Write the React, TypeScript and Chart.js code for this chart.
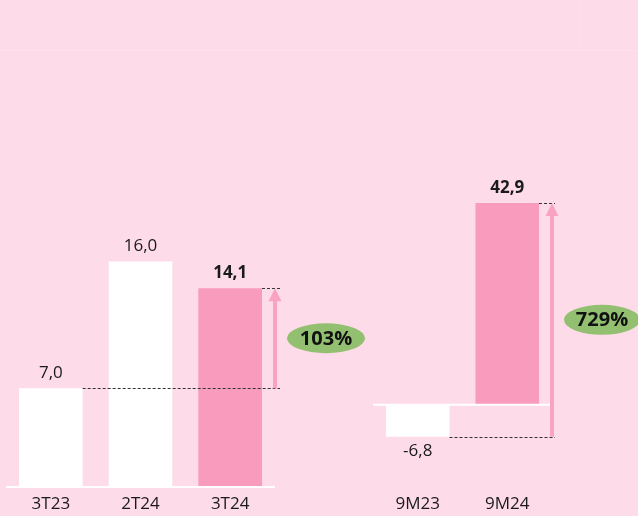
import React, { useEffect, useRef } from 'react';
import { Chart, registerables } from 'chart.js';

Chart.register(...registerables);

// ---- Data ----
const quarterLabels = ['3T23', '2T24', '3T24'];
const quarterValues = [7.0, 16.0, 14.1];
const quarterGrowth = '103%';

const ytdLabels = ['9M23', '9M24'];
const ytdValues = [-6.8, 42.9];
const ytdGrowth = '729%';

// ---- Styles ----
const BG = '#FDDBE8';
const PINK = '#F99BBD';
const WHITE = '#FFFFFF';
const ARROW = '#F9A2C1';
const GREEN = '#93BF70';
const TEXT = '#1a1a1a';
const FONT = '"Open Sans", "Noto Sans", sans-serif';

const fmt = (v: number) => v.toFixed(1).replace('.', ',');

const annotate = {
  id: 'annotate',
  afterDatasetsDraw(chart: any, _args: any, opts: any) {
    const { ctx, chartArea } = chart;
    const ys = chart.scales.y;
    const meta = chart.getDatasetMeta(0);
    const vals = chart.data.datasets[0].data as number[];
    const n = vals.length;
    ctx.save();

    // zero line
    const y0 = ys.getPixelForValue(0);
    ctx.strokeStyle = WHITE;
    ctx.lineWidth = 2;
    ctx.beginPath();
    ctx.moveTo(chartArea.left, y0);
    ctx.lineTo(chartArea.right, y0);
    ctx.stroke();

    // value labels
    ctx.textAlign = 'center';
    ctx.textBaseline = 'middle';
    ctx.fillStyle = TEXT;
    meta.data.forEach((bar: any, i: number) => {
      const v = vals[i];
      ctx.font = `${i === n - 1 ? 'bold ' : ''}17px ${FONT}`;
      const y = v >= 0 ? bar.y - 15 : bar.y + 14;
      ctx.fillText(fmt(v), bar.x, y);
    });

    // dashed reference lines
    const first = meta.data[0];
    const last = meta.data[n - 1];
    const yFrom = ys.getPixelForValue(vals[0]);
    const yTo = ys.getPixelForValue(vals[n - 1]);
    const ax = chartArea.right;
    const dashEnd = ax + opts.dashExtra;
    ctx.setLineDash([3, 2]);
    ctx.strokeStyle = '#333';
    ctx.lineWidth = 1;
    ctx.beginPath();
    ctx.moveTo(first.x + first.width / 2, Math.round(yFrom) + 0.5);
    ctx.lineTo(dashEnd, Math.round(yFrom) + 0.5);
    ctx.moveTo(last.x + last.width / 2, Math.round(yTo) + 0.5);
    ctx.lineTo(dashEnd, Math.round(yTo) + 0.5);
    ctx.stroke();

    // arrow
    ctx.setLineDash([]);
    ctx.strokeStyle = ARROW;
    ctx.fillStyle = ARROW;
    ctx.lineWidth = 4;
    ctx.beginPath();
    ctx.moveTo(ax, yFrom);
    ctx.lineTo(ax, yTo + 12);
    ctx.stroke();
    ctx.beginPath();
    ctx.moveTo(ax - 6.5, yTo + 13);
    ctx.lineTo(ax + 6.5, yTo + 13);
    ctx.lineTo(ax, yTo);
    ctx.closePath();
    ctx.fill();

    // growth ellipse
    const cx = ax + opts.ellipseDx;
    const cy = (yFrom + yTo) / 2;
    ctx.fillStyle = GREEN;
    ctx.beginPath();
    ctx.ellipse(cx, cy, opts.rx, 15, 0, 0, Math.PI * 2);
    ctx.fill();
    ctx.fillStyle = '#111';
    ctx.font = `bold 20px ${FONT}`;
    ctx.fillText(opts.text, cx, cy + 1);

    ctx.restore();
  },
};

function makeConfig(
  labels: string[],
  values: number[],
  yMin: number,
  yMax: number,
  padding: { left: number; right: number; top: number },
  ann: any
): any {
  const colors = values.map((_, i) => (i === values.length - 1 ? PINK : WHITE));
  return {
    type: 'bar',
    data: {
      labels,
      datasets: [
        {
          data: values,
          backgroundColor: colors,
          borderWidth: 0,
          categoryPercentage: 1,
          barPercentage: 0.71,
        },
      ],
    },
    options: {
      animation: false,
      responsive: false,
      maintainAspectRatio: false,
      layout: { padding: { ...padding, bottom: 0 } },
      plugins: {
        legend: { display: false },
        tooltip: { enabled: false },
        annotate: ann,
      },
      scales: {
        x: {
          grid: { display: false, drawTicks: false },
          border: { display: false },
          ticks: { font: { size: 17, family: FONT }, color: TEXT, padding: 7 },
          afterFit: (s: any) => {
            s.height = 29;
          },
        },
        y: { display: false, min: yMin, max: yMax },
      },
    },
    plugins: [annotate],
  };
}

function BarPanel(props: {
  left: number;
  width: number;
  config: any;
}) {
  const ref = useRef<HTMLCanvasElement>(null);
  useEffect(() => {
    if (!ref.current) return;
    const chart = new Chart(ref.current, props.config);
    return () => chart.destroy();
  }, []);
  return (
    <canvas
      ref={ref}
      width={props.width}
      height={516}
      style={{ position: 'absolute', left: props.left, top: 0, width: props.width, height: 516 }}
    />
  );
}

export default function App() {
  const leftCfg = makeConfig(quarterLabels, quarterValues, 0, 20, { left: 6, right: 95, top: 205 }, {
    dashExtra: 5,
    ellipseDx: 51,
    rx: 39,
    text: quarterGrowth,
  });
  const rightCfg = makeConfig(ytdLabels, ytdValues, -17.5, 55, { left: 3, right: 86, top: 146 }, {
    dashExtra: 3,
    ellipseDx: 50,
    rx: 38,
    text: ytdGrowth,
  });
  return (
    <div
      style={{
        position: 'fixed',
        left: 0,
        top: 0,
        width: 638,
        height: 516,
        background: BG,
        overflow: 'hidden',
      }}
    >
      <div style={{ position: 'absolute', left: 0, top: 50, width: 638, height: 1, background: 'rgba(255,255,255,0.2)' }} />
      <div style={{ position: 'absolute', left: 580, top: 0, width: 1, height: 50, background: 'rgba(255,255,255,0.2)' }} />
      <BarPanel left={0} width={370} config={leftCfg} />
      <BarPanel left={370} width={268} config={rightCfg} />
    </div>
  );
}
